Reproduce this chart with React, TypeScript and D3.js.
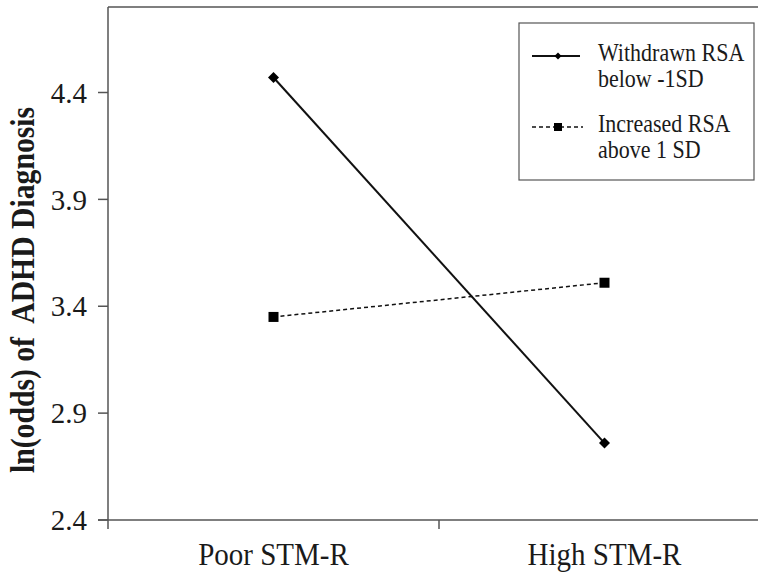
import React from 'react';
import * as d3 from 'd3';

// chart data
const categories = ['Poor STM-R', 'High STM-R'];
const withdrawnValues = [4.47, 2.76];
const increasedValues = [3.35, 3.51];
const yTicks = [2.4, 2.9, 3.4, 3.9, 4.4];
const seriesNames = [
  ['Withdrawn RSA', 'below -1SD'],
  ['Increased RSA', 'above 1 SD'],
];

const W = 758;
const H = 577;
const FONT = '"Liberation Serif"';

const left = 108;
const top = 7;
const bottom = 520;
const bandW = 331;
const axisColor = '#555';
const ink = '#1a1a1a';

const x = d3.scaleBand<string>()
  .domain(categories)
  .range([left, left + bandW * categories.length]);
const y = d3.scaleLinear().domain([2.4, 4.8]).range([bottom, top]);
const cx = (i: number) => (x(categories[i]) as number) + x.bandwidth() / 2;

const line = d3.line<number>()
  .x((_, i) => cx(i))
  .y((d) => y(d));

const diamond = d3.symbol().type(d3.symbolDiamond2).size(78)();
const legendDiamond = d3.symbol().type(d3.symbolDiamond2).size(32)();

const App = () => {
  const bounds = categories.map((c) => x(c) as number).concat([x.range()[1]]);
  const fmt = d3.format('.1f');

  return (
    <svg
      width={W}
      height={H}
      style={{ position: 'absolute', left: 0, top: 0, background: '#fff', fontFamily: FONT }}
    >
      {/* top frame line */}
      <line x1={left} x2={W} y1={top} y2={top} stroke={axisColor} strokeWidth={1.5} />

      {/* y axis */}
      <line x1={left} x2={left} y1={top} y2={bottom} stroke={axisColor} strokeWidth={1.5} />
      {yTicks.map((t) => (
        <g key={t} transform={`translate(${left},${y(t)})`}>
          <line x1={-10} x2={0} stroke={axisColor} strokeWidth={1.5} />
          <text
            x={-21}
            dy="0.35em"
            textAnchor="end"
            fontSize={29}
            fill={ink}
            style={{ fontFamily: FONT }}
          >
            {fmt(t)}
          </text>
        </g>
      ))}

      {/* x axis */}
      <line x1={left - 10} x2={W} y1={bottom} y2={bottom} stroke={axisColor} strokeWidth={1.5} />
      {bounds.map((b) => (
        <line key={b} x1={b} x2={b} y1={bottom} y2={bottom + 9} stroke={axisColor} strokeWidth={1.5} />
      ))}
      {categories.map((c, i) => (
        <text
          key={c}
          transform={`translate(${cx(i)},565) scale(1,1.08)`}
          textAnchor="middle"
          fontSize={29}
          fill={ink}
          style={{ fontFamily: FONT }}
        >
          {c}
        </text>
      ))}

      {/* y axis title */}
      <text
        transform={`translate(34,290) rotate(-90) scale(0.9,1)`}
        textAnchor="middle"
        fontSize={33}
        fontWeight="bold"
        fill={ink}
        style={{ fontFamily: FONT, whiteSpace: 'pre' }}
      >
        {'ln(odds) of  ADHD Diagnosis'}
      </text>

      {/* withdrawn series: solid with diamonds */}
      <path d={line(withdrawnValues) as string} fill="none" stroke="#111" strokeWidth={2} />
      {withdrawnValues.map((v, i) => (
        <path key={i} d={diamond as string} transform={`translate(${cx(i)},${y(v)})`} fill="#000" />
      ))}

      {/* increased series: dashed with squares */}
      <path
        d={line(increasedValues) as string}
        fill="none"
        stroke="#111"
        strokeWidth={1.5}
        strokeDasharray="4,3"
      />
      {increasedValues.map((v, i) => (
        <rect key={i} x={cx(i) - 5} y={y(v) - 5} width={10} height={10} fill="#000" />
      ))}

      {/* legend */}
      <g transform="translate(519,23)">
        <rect width={235} height={157} fill="#fff" stroke={axisColor} strokeWidth={1.2} />
        {[33, 104].map((ry, i) => (
          <g key={i}>
            <line
              x1={13}
              x2={i === 0 ? 61 : 64}
              y1={ry}
              y2={ry}
              stroke="#111"
              strokeWidth={i === 0 ? 1.8 : 1.5}
              strokeDasharray={i === 0 ? undefined : '4,3'}
            />
            {i === 0 ? (
              <path d={legendDiamond as string} transform={`translate(39,${ry})`} fill="#000" />
            ) : (
              <rect x={35} y={ry - 4} width={8} height={8} fill="#000" />
            )}
            {seriesNames[i].map((t, j) => (
              <text
                key={t}
                transform={`translate(79,${ry + 5 + j * 26}) scale(1,1.12)`}
                fontSize={22}
                fill={ink}
                style={{ fontFamily: FONT }}
              >
                {t}
              </text>
            ))}
          </g>
        ))}
      </g>
    </svg>
  );
};

export default App;
